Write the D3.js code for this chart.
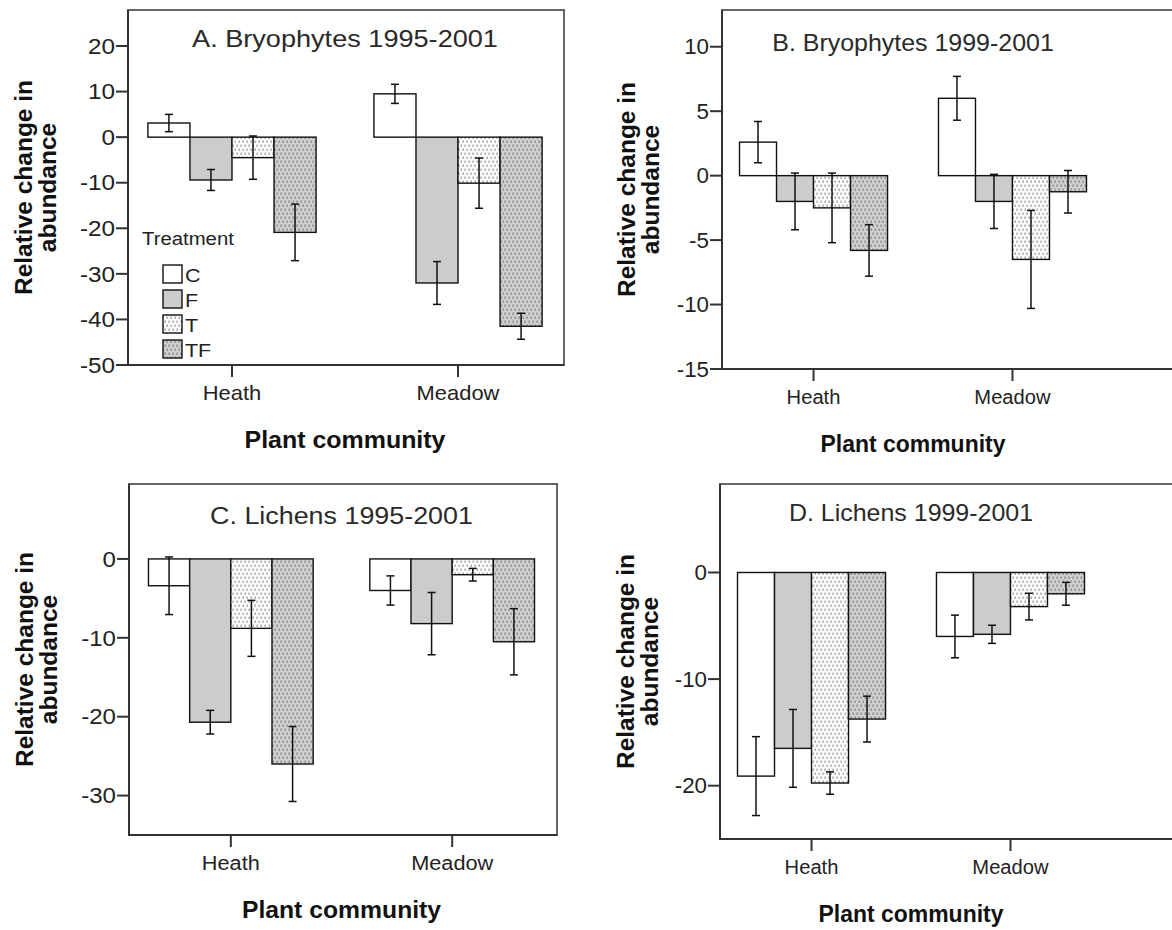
<!DOCTYPE html>
<html>
<head>
<meta charset="utf-8">
<script src="https://cdn.jsdelivr.net/npm/d3@7"></script>
<style>
  html, body { margin: 0; padding: 0; background: #fff; }
  svg { display: block; font-family: "Liberation Sans", Arial, sans-serif; }
</style>
</head>
<body>
<svg id="chart" width="1172" height="930"></svg>
<script>
// ---------------- DATA ----------------
const communities = ["Heath", "Meadow"];
const treatments = ["C", "F", "T", "TF"];
const panelTitles = ["A. Bryophytes 1995-2001", "B. Bryophytes 1999-2001", "C. Lichens 1995-2001", "D. Lichens 1999-2001"];

// means per treatment: [Heath, Meadow]
const meansA = { C: [3.1, 9.5], F: [-9.4, -32.0], T: [-4.5, -10.1], TF: [-20.9, -41.5] };
const errsA  = { C: [1.9, 2.1], F: [2.3, 4.7],   T: [4.75, 5.5],  TF: [6.2, 2.85] };
const meansB = { C: [2.6, 6.0], F: [-2.0, -2.0], T: [-2.5, -6.5], TF: [-5.8, -1.25] };
const errsB  = { C: [1.6, 1.7], F: [2.2, 2.1],   T: [2.7, 3.8],   TF: [2.0, 1.65] };
const meansC = { C: [-3.4, -4.0], F: [-20.7, -8.2], T: [-8.8, -2.0], TF: [-26.0, -10.5] };
const errsC  = { C: [3.65, 1.85], F: [1.5, 3.95],   T: [3.55, 0.8],  TF: [4.75, 4.2] };
const meansD = { C: [-19.1, -6.0], F: [-16.5, -5.8], T: [-19.75, -3.2], TF: [-13.75, -2.0] };
const errsD  = { C: [3.7, 2.0],    F: [3.65, 0.85],  T: [1.05, 1.25],   TF: [2.15, 1.07] };

const ticksA = [20, 10, 0, -10, -20, -30, -40, -50];
const ticksB = [10, 5, 0, -5, -10, -15];
const ticksC = [0, -10, -20, -30];
const ticksD = [0, -10, -20];

const domainA = [-50, 27.9];
const domainB = [-15, 12.85];
const domainC = [-35, 9.5];
const domainD = [-25, 8.3];

const legendTitle = "Treatment";
const yTitleLines = ["Relative change in", "abundance"];
const xTitle = "Plant community";

// ---------------- LAYOUT ----------------
const panels = [
  { title: panelTitles[0], means: meansA, errs: errsA, ticks: ticksA, domain: domainA,
    left: 128, right: 564, top: 10, bottom: 365, span: 434, sx: 1.13, titleDy: 37, ytx: 96, legend: true },
  { title: panelTitles[1], means: meansB, errs: errsB, ticks: ticksB, domain: domainB,
    left: 722, right: 1210, top: 10, bottom: 369, span: 382, sx: 1.04, titleDy: 41, ytx: 87, legend: false },
  { title: panelTitles[2], means: meansC, errs: errsC, ticks: ticksC, domain: domainC,
    left: 129, right: 557, top: 484, bottom: 835, span: 425, sx: 1.12, titleDy: 40, ytx: 96, legend: false },
  { title: panelTitles[3], means: meansD, errs: errsD, ticks: ticksD, domain: domainD,
    left: 720, right: 1210, top: 484, bottom: 839, span: 382, sx: 1.04, titleDy: 37, ytx: 86, legend: false }
];

const fills = { C: "#ffffff", F: "#cccccc", T: "url(#patT)", TF: "url(#patTF)" };
const textColor = "#222";

const svg = d3.select("#chart");
svg.append("rect").attr("width", 1172).attr("height", 930).attr("fill", "#fff");

// patterns
const defs = svg.append("defs");
function makePattern(id, bg, dot) {
  const p = defs.append("pattern").attr("id", id).attr("patternUnits", "userSpaceOnUse")
    .attr("width", 4).attr("height", 8);
  p.append("rect").attr("width", 4).attr("height", 8).attr("fill", bg);
  p.append("rect").attr("x", 0.5).attr("y", 0.5).attr("width", 1.3).attr("height", 2.4).attr("fill", dot);
  p.append("rect").attr("x", 2.5).attr("y", 4.5).attr("width", 1.3).attr("height", 2.4).attr("fill", dot);
}
makePattern("patT", "#ffffff", "#9a9a9a");
makePattern("patTF", "#cfcfcf", "#858585");

function stretchedText(g, x, y, txt, opts) {
  return g.append("text")
    .attr("transform", `translate(${x},${y}) scale(${opts.sx},1)`)
    .attr("text-anchor", opts.anchor || "middle")
    .attr("font-size", opts.size)
    .attr("font-weight", opts.weight || "normal")
    .attr("fill", opts.fill || textColor)
    .attr("dy", opts.dy || null)
    .text(txt);
}

panels.forEach(p => {
  const g = svg.append("g");
  const y = d3.scaleLinear().domain(p.domain).range([p.bottom, p.top]);
  const x = d3.scalePoint().domain(communities).range([p.left, p.left + p.span]).padding(0.46);
  const step = x.step();
  const bw = step * 0.186;
  const inner = d3.scaleBand().domain(treatments).range([-2 * bw, 2 * bw]).padding(0);

  // frame
  g.append("rect").attr("x", p.left).attr("y", p.top)
    .attr("width", p.right - p.left).attr("height", p.bottom - p.top)
    .attr("fill", "none").attr("stroke", "#666").attr("stroke-width", 2);

  // title
  stretchedText(g, (x("Heath") + x("Meadow")) / 2, p.top + p.titleDy, p.title,
    { sx: p.sx, size: 24, fill: "#2a2a2a" });

  // bars
  const rows = [];
  treatments.forEach(t => communities.forEach((c, i) => {
    rows.push({ t, c, v: p.means[t][i], e: p.errs[t][i] });
  }));
  g.selectAll("rect.bar").data(rows).enter().append("rect")
    .attr("class", "bar")
    .attr("x", d => x(d.c) + inner(d.t))
    .attr("width", inner.bandwidth())
    .attr("y", d => y(Math.max(0, d.v)))
    .attr("height", d => Math.abs(y(d.v) - y(0)))
    .attr("fill", d => fills[d.t])
    .attr("stroke", "#111").attr("stroke-width", 1.4);

  // error bars
  const eb = g.selectAll("g.err").data(rows).enter().append("g").attr("class", "err")
    .attr("stroke", "#111").attr("stroke-width", 1.5);
  const cx = d => x(d.c) + inner(d.t) + inner.bandwidth() / 2;
  eb.append("line").attr("x1", cx).attr("x2", cx)
    .attr("y1", d => y(d.v + d.e)).attr("y2", d => y(d.v - d.e));
  eb.append("line").attr("x1", d => cx(d) - 4).attr("x2", d => cx(d) + 4)
    .attr("y1", d => y(d.v + d.e)).attr("y2", d => y(d.v + d.e));
  eb.append("line").attr("x1", d => cx(d) - 4).attr("x2", d => cx(d) + 4)
    .attr("y1", d => y(d.v - d.e)).attr("y2", d => y(d.v - d.e));

  // axis lines (left & bottom darker)
  g.append("line").attr("x1", p.left).attr("x2", p.left).attr("y1", p.top).attr("y2", p.bottom + 1)
    .attr("stroke", "#333").attr("stroke-width", 2);
  g.append("line").attr("x1", p.left - 1).attr("x2", p.right).attr("y1", p.bottom).attr("y2", p.bottom)
    .attr("stroke", "#333").attr("stroke-width", 2);

  // y ticks
  const yt = g.selectAll("g.yt").data(p.ticks).enter().append("g").attr("class", "yt");
  yt.append("line").attr("x1", p.left - 12).attr("x2", p.left)
    .attr("y1", d => y(d)).attr("y2", d => y(d)).attr("stroke", "#333").attr("stroke-width", 2);
  yt.each(function (d) {
    stretchedText(d3.select(this), p.left - 13, y(d), String(d),
      { sx: p.sx, size: 21.5, anchor: "end", dy: "0.36em" });
  });

  // x ticks
  const xt = g.selectAll("g.xt").data(communities).enter().append("g").attr("class", "xt");
  xt.append("line").attr("x1", d => x(d)).attr("x2", d => x(d))
    .attr("y1", p.bottom).attr("y2", p.bottom + 12).attr("stroke", "#333").attr("stroke-width", 2);
  xt.each(function (d) {
    stretchedText(d3.select(this), x(d), p.bottom + 35, d, { sx: p.sx * 0.97, size: 20 });
  });

  // x title
  stretchedText(g, (x("Heath") + x("Meadow")) / 2, p.bottom + 83, xTitle,
    { sx: p.sx * 0.92, size: 24, weight: "bold", fill: "#111" });

  // y title (two lines, rotated)
  const ymid = (p.top + p.bottom) / 2;
  yTitleLines.forEach((line, i) => {
    g.append("text")
      .attr("transform", `translate(${p.left - p.ytx + i * 24},${ymid}) rotate(-90)`)
      .attr("text-anchor", "middle")
      .attr("font-size", 24.5).attr("font-weight", "bold").attr("fill", "#111")
      .text(line);
  });

  // legend
  if (p.legend) {
    const lg = g.append("g");
    stretchedText(lg, p.left + 14, 245, legendTitle, { sx: p.sx, size: 18, anchor: "start" });
    const items = lg.selectAll("g.li").data(treatments).enter().append("g").attr("class", "li");
    items.append("rect")
      .attr("x", p.left + 35).attr("y", (d, i) => 265 + i * 25)
      .attr("width", 19).attr("height", 18)
      .attr("fill", d => fills[d]).attr("stroke", "#111").attr("stroke-width", 1.4);
    items.each(function (d, i) {
      stretchedText(d3.select(this), p.left + 57, 265 + i * 25 + 17, d,
        { sx: p.sx, size: 19, anchor: "start" });
    });
  }
});
</script>
</body>
</html>
